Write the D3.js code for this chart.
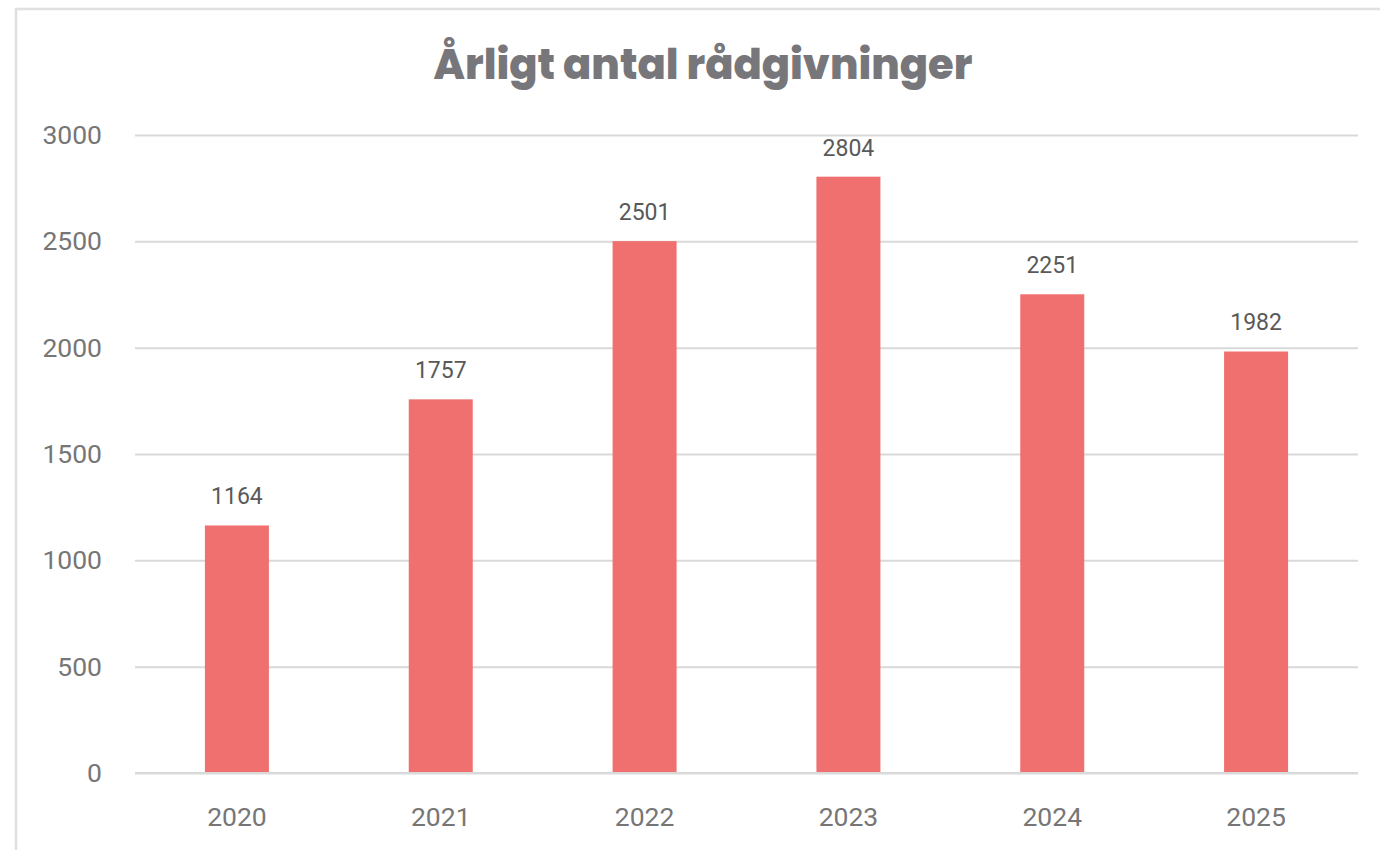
<!DOCTYPE html>
<html><head><meta charset="utf-8">
<script src="https://cdn.jsdelivr.net/npm/d3@7"></script>
<style>html,body{margin:0;padding:0;background:#fff;}svg{display:block;}</style>
</head><body>
<svg id="c" width="1380" height="850"></svg>
<script>
const categories = ["2020","2021","2022","2023","2024","2025"];
const values = [1164, 1757, 2501, 2804, 2251, 1982];
const yTicks = [0, 500, 1000, 1500, 2000, 2500, 3000];
const title = "Årligt antal rådgivninger";

const svg = d3.select("#c");
const W = 1380, H = 850;
const m = {left:135, right:1358, top:135, bottom:773};

// border
svg.append("path").attr("d", `M16,${H} L16,9 L${W},9`).attr("fill","none")
  .attr("stroke","#e0e0e0").attr("stroke-width",2.5);

const x = d3.scaleBand().domain(categories).range([m.left, m.right]).paddingInner(0.686).paddingOuter(0.343);
const y = d3.scaleLinear().domain([0,3000]).range([m.bottom, m.top]);

const titleFont = "Poppins, 'Open Sans', 'Noto Sans', sans-serif";
const numFont = "Roboto, 'Liberation Sans', Arial, sans-serif";

// gridlines
const yAxis = d3.axisLeft(y).tickValues(yTicks).tickSize(-(m.right-m.left)).tickPadding(33).tickFormat(d3.format("d"));
const gy = svg.append("g").attr("transform",`translate(${m.left},0)`).call(yAxis);
gy.select(".domain").remove();
gy.selectAll(".tick line").attr("stroke","#d9d9d9").attr("stroke-width",2);
gy.selectAll(".tick text").attr("fill","#767676").attr("font-family",numFont).attr("font-size",26.5);

// bars
svg.append("g").selectAll("rect").data(values).join("rect")
  .attr("x",(d,i)=>x(categories[i])).attr("width",x.bandwidth())
  .attr("y",d=>y(d)).attr("height",d=>y(0)-y(d)).attr("fill","#f07070");

// baseline redrawn over bars
svg.append("line").attr("x1",m.left).attr("x2",m.right).attr("y1",y(0)).attr("y2",y(0))
  .attr("stroke","#d9d9d9").attr("stroke-width",2);

// x axis labels
const xAxis = d3.axisBottom(x).tickSize(0).tickPadding(34);
const gx = svg.append("g").attr("transform",`translate(0,${m.bottom})`).call(xAxis);
gx.select(".domain").remove();
gx.selectAll(".tick text").attr("fill","#767676").attr("font-family",numFont).attr("font-size",26.5);

// data labels
svg.append("g").selectAll("text").data(values).join("text")
  .attr("x",(d,i)=>x(categories[i])+x.bandwidth()/2).attr("y",d=>y(d)-21)
  .attr("text-anchor","middle").attr("fill","#595959").attr("font-family",numFont).attr("font-size",23)
  .text(d=>d);

// title
const t = svg.append("text").attr("x",703).attr("y",79).attr("text-anchor","middle")
  .attr("fill","#77777b").attr("font-family",titleFont).attr("font-weight",800).attr("font-size",40)
  .text(title);
const tw = t.node().getComputedTextLength();
t.attr("font-size", 40*539/tw);
</script>
</body></html>
